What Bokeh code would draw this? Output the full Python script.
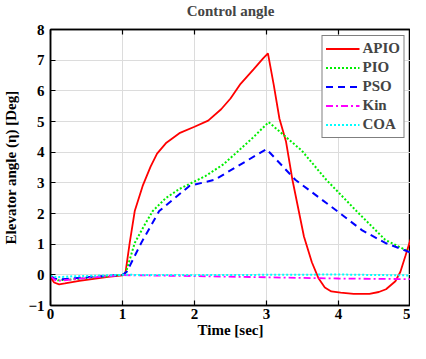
from bokeh.plotting import figure
from bokeh.embed import file_html
from bokeh.resources import INLINE
from bokeh.models import LinearAxis, FixedTicker, CustomLabelingPolicy

# ---- data ----
t_apio = [0, 0.05, 0.12, 0.2, 0.4, 0.6, 0.8, 1.0, 1.04, 1.10, 1.17, 1.28, 1.39, 1.48, 1.61, 1.79,
          2.0, 2.19, 2.37, 2.5, 2.64, 2.82, 2.95, 3.02, 3.1, 3.18, 3.27, 3.36, 3.52, 3.63, 3.72,
          3.81, 3.90, 4.03, 4.21, 4.43, 4.56, 4.66, 4.79, 4.86, 4.93, 5.0]
v_apio = [-0.08, -0.25, -0.31, -0.28, -0.2, -0.13, -0.07, -0.02, 0.05, 1.04, 2.08, 2.9, 3.53, 3.95, 4.31, 4.62,
          4.83, 5.03, 5.4, 5.75, 6.23, 6.70, 7.05, 7.22, 6.2, 5.09, 4.36, 3.1, 1.25, 0.41, -0.1,
          -0.41, -0.54, -0.58, -0.62, -0.62, -0.56, -0.47, -0.21, 0.1, 0.62, 1.15]

t_pio = [0, 0.1, 0.3, 0.6, 1.0, 1.05, 1.17, 1.3, 1.42, 1.6, 1.79, 2.15, 2.4, 2.59, 2.81, 3.03,
         3.49, 3.83, 4.25, 4.65, 5.0]
v_pio = [-0.05, -0.18, -0.15, -0.08, 0.0, 0.1, 1.04, 1.6, 2.08, 2.5, 2.8, 3.22, 3.6, 4.0, 4.47, 4.98,
         4.05, 3.1, 2.08, 1.14, 0.73]

t_pso = [0, 0.1, 0.3, 0.6, 1.0, 1.06, 1.26, 1.51, 1.93, 2.28, 2.59, 3.0, 3.40, 3.98, 4.33, 4.65, 5.0]
v_pso = [-0.05, -0.15, -0.12, -0.06, 0.0, 0.1, 1.04, 2.08, 2.9, 3.1, 3.53, 4.1, 3.1, 2.08, 1.45, 1.04, 0.73]

t_kin = [0, 0.08, 0.3, 0.6, 1.0, 2.0, 3.0, 4.0, 5.0]
v_kin = [-0.05, -0.2, -0.15, -0.08, -0.01, -0.04, -0.08, -0.12, -0.14]

t_coa = [0, 0.08, 0.3, 1.0, 2.0, 3.0, 4.0, 5.0]
v_coa = [-0.02, -0.08, -0.05, 0.0, -0.01, 0.0, 0.01, -0.02]

x_ticks = [0, 1, 2, 3, 4, 5]
y_ticks = [-1, 0, 1, 2, 3, 4, 5, 6, 7, 8]

FONT = "Times"

p = figure(width=410, height=343, x_range=(0, 5), y_range=(-1, 8),
           output_backend="svg", toolbar_location=None,
           min_border_left=45, min_border_right=0, min_border_top=0, min_border_bottom=38)

p.title.text = "Control angle"
p.title.align = "center"
p.title.text_font = FONT
p.title.text_font_style = "bold"
p.title.text_font_size = "15px"
p.title.standoff = 0
p.title.offset = 0

p.line(t_apio, v_apio, color="#ff0000", line_width=1.8, legend_label="APIO")
p.line(t_pio, v_pio, color="#00ee00", line_width=2, line_dash="2 2", legend_label="PIO")
p.line(t_pso, v_pso, color="#0000ff", line_width=2, line_dash="7 5", legend_label="PSO")
p.line(t_kin, v_kin, color="#ff00ff", line_width=1.8, line_dash="7 3 2 3", legend_label="Kin")
p.line(t_coa, v_coa, color="#00ffff", line_width=2, line_dash="2 2", legend_label="COA")

for ax in (p.xaxis[0], p.yaxis[0]):
    ax.major_label_text_font = FONT
    ax.major_label_text_font_style = "bold"
    ax.major_label_text_font_size = "15px"
    ax.major_label_text_color = "black"
    ax.axis_label_text_font = FONT
    ax.axis_label_text_font_style = "bold"
    ax.axis_label_text_font_size = "15px"
    ax.axis_label_text_color = "black"
    ax.major_tick_in = 5
    ax.major_tick_out = 0
    ax.minor_tick_line_color = None
    ax.axis_line_width = 1.5
    ax.major_tick_line_width = 1.2

p.xaxis[0].ticker = FixedTicker(ticks=x_ticks)
p.yaxis[0].ticker = FixedTicker(ticks=y_ticks)
p.xaxis[0].axis_label = "Time [sec]"
p.yaxis[0].axis_label = "Elevator angle (\u03b7) [Deg]"
p.xaxis[0].major_label_standoff = 3
p.xaxis[0].axis_label_standoff = 0
p.yaxis[0].major_label_standoff = 6
p.yaxis[0].axis_label_standoff = 6

no_labels = CustomLabelingPolicy(code="return new Set()")
top = LinearAxis(ticker=FixedTicker(ticks=x_ticks), major_label_policy=no_labels,
                 major_label_standoff=0, major_tick_in=5, major_tick_out=0,
                 minor_tick_line_color=None, axis_line_width=1.5, major_tick_line_width=1.2)
p.add_layout(top, "above")

p.xgrid.ticker = FixedTicker(ticks=x_ticks)
p.ygrid.ticker = FixedTicker(ticks=y_ticks)
p.grid.grid_line_color = "#dcdcdc"
p.grid.grid_line_width = 1

p.outline_line_color = "black"
p.outline_line_width = 1.5

lg = p.legend[0]
lg.location = "top_right"
lg.margin = 6
lg.border_line_color = "black"
lg.border_line_width = 1.5
lg.background_fill_color = "white"
lg.background_fill_alpha = 1
lg.label_text_font = FONT
lg.label_text_font_style = "bold"
lg.label_text_font_size = "15px"
lg.glyph_width = 34
lg.glyph_height = 19
lg.label_height = 19
lg.spacing = 0
lg.padding = 3
lg.label_standoff = 3

open("out.html", "w").write(file_html(p, INLINE))
